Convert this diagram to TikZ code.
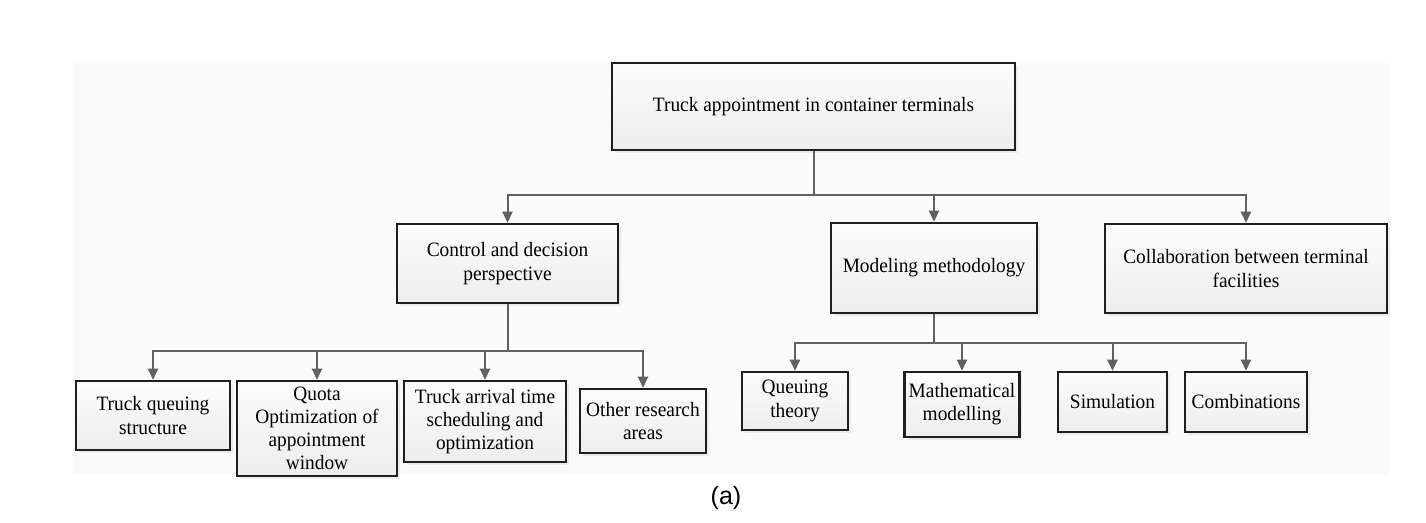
\documentclass[tikz,border=0pt]{standalone}
\usepackage{fontspec}
\setmainfont{Liberation Serif}[FakeStretch=0.95]
\newfontfamily\captionfont{Liberation Sans}
\usetikzlibrary{arrows.meta,shadows}

\tikzset{
    box/.style={draw=black!88, line width=1.25pt, top color=gray!2, bottom color=gray!14,
        align=center, inner sep=2pt, font=\fontsize{10.2}{11.6}\selectfont,
        drop shadow={opacity=0.12, shadow xshift=1.5pt, shadow yshift=-1.5pt}},
    link/.style={draw=black!62, line width=1pt},
    arrow/.style={link, -{Triangle[length=5.5pt,width=5pt]}}
}

\begin{document}
\begin{tikzpicture}[x=0.5pt,y=-0.5pt]
    \useasboundingbox (0,0) rectangle (1426,523);
    % Background
    \fill[gray!4] (73,63) rectangle (1390,475);
    % Top Layer
    \node[box, minimum width=201.5pt, minimum height=43.5pt] (Top) at (813.5,106.5) {Truck appointment in container terminals};
    % Middle Layer
    \node[box, minimum width=110.5pt, minimum height=39.5pt] (Mid-1) at (507.5,263.5) {Control and decision\\perspective};
    \node[box, minimum width=103pt, minimum height=45pt] (Mid-2) at (934,268) {Modeling methodology};
    \node[box, minimum width=141pt, minimum height=44.5pt] (Mid-3) at (1246,268.5) {Collaboration between terminal\\facilities};
    % Bottom Layer
    \foreach \name/\i/\x/\y/\w/\h in {
        {Truck queuing\\structure}/1/153/415.5/77/34.5,
        {Quota\\Optimization of\\appointment\\window}/2/317/428.5/80/47.5,
        {Truck arrival time\\scheduling and\\optimization}/3/485/421.5/81/40.5,
        {Other research\\areas}/4/643/421/63/32,
        {Queuing\\theory}/5/795/401/53/29,
        {Mathematical\\modelling}/6/962/404.5/57/32.5,
        {Simulation}/7/1112.5/402/54.5/30,
        {Combinations}/8/1246/402/61/30} {
        \node[box, minimum width=\w pt, minimum height=\h pt] (Low-\i) at (\x,\y) {\name};
    }
    % Caption
    \node[font=\captionfont\fontsize{12.5}{15}\selectfont] (Caption) at (726,498) {(a)};
    % Arrows
    \coordinate (Split-0) at (813.5,195);
    \coordinate (Split-1) at (507.5,351);
    \coordinate (Split-2) at (934,343);
    \draw[link] (Top.south) -- (Split-0);
    \foreach \j in {1,2,3} {
        \draw[arrow] (Split-0) -| (Mid-\j.north);
    }
    \draw[link] (Mid-1.south) -- (Split-1);
    \foreach \j in {1,...,4} {
        \draw[arrow] (Split-1) -| (Low-\j.north);
    }
    \draw[link] (Mid-2.south) -- (Split-2);
    \foreach \j in {5,...,8} {
        \draw[arrow] (Split-2) -| (Low-\j.north);
    }
\end{tikzpicture}
\end{document}
